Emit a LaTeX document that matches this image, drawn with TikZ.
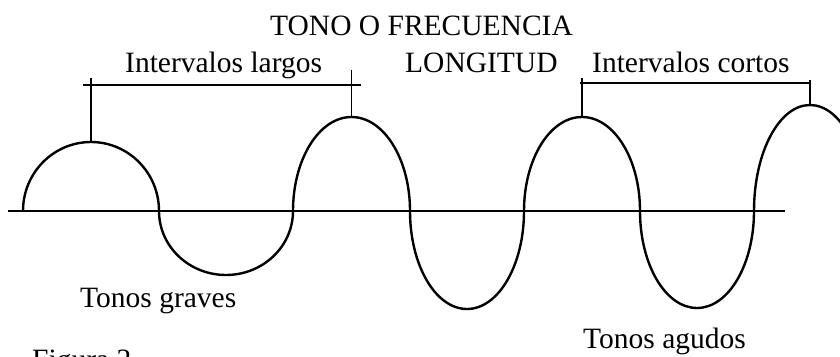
\documentclass[tikz,border=0pt]{standalone}
\usepackage{fontspec}
\setmainfont{Liberation Serif}
\tikzset{
  wave/.style={line width=2.4pt, line join=round},
  axisline/.style={line width=2.2pt},
  bracketline/.style={line width=1.3pt},
  lbl/.style={inner sep=0pt, anchor=base west, font=\fontsize{29.5}{32}\selectfont}
}
\begin{document}
\begin{tikzpicture}[x=1pt, y=-1pt]
\clip (0,0) rectangle (840,356);
% axis
\coordinate (axL) at (8,211);
\coordinate (axR) at (785,211);
\draw[axisline] (axL) -- (axR);
% wave
\coordinate (w0) at (23,211);
\draw[wave] (w0)
  arc[start angle=180, end angle=360, x radius=68, y radius=69]
  arc[start angle=180, end angle=0, x radius=67, y radius=64]
  arc[start angle=180, end angle=360, x radius=58.5, y radius=94]
  arc[start angle=180, end angle=0, x radius=57, y radius=98]
  arc[start angle=180, end angle=360, x radius=58, y radius=94]
  arc[start angle=180, end angle=0, x radius=57, y radius=97]
  arc[start angle=180, end angle=360, x radius=56, y radius=106];
% crest tops
\coordinate (c1) at (91,142);
\coordinate (c2) at (351.5,117);
\coordinate (c3) at (582,117);
\coordinate (c4) at (810,105);
% long interval bracket
\coordinate (b1L) at (83,85);
\coordinate (b1R) at (361,85);
\coordinate (t1a) at (91,78);
\coordinate (t1b) at (351.5,70);
\draw[bracketline] (b1L) -- (b1R);
\draw[bracketline] (t1a) -- (c1);
\draw[bracketline] (t1b) -- (c2);
% short interval bracket
\coordinate (b2L) at (580,83);
\coordinate (b2R) at (810,83);
\coordinate (t2a) at (582,78);
\coordinate (t2b) at (810,80);
\draw[bracketline] (b2L) -- (b2R);
\draw[bracketline] (t2a) -- (c3);
\draw[bracketline] (t2b) -- (c4);
% labels
\node[lbl] (title) at (270,35) {TONO O FRECUENCIA};
\node[lbl] (il) at (125,72) {Intervalos largos};
\node[lbl] (lon) at (405,72) {LONGITUD};
\node[lbl] (ic) at (592,72) {Intervalos cortos};
\node[lbl] (tg) at (80,307) {Tonos graves};
\node[lbl] (ta) at (583,348) {Tonos agudos};
\node[lbl] (fig) at (32,369) {Figura 2};
\end{tikzpicture}
\end{document}
